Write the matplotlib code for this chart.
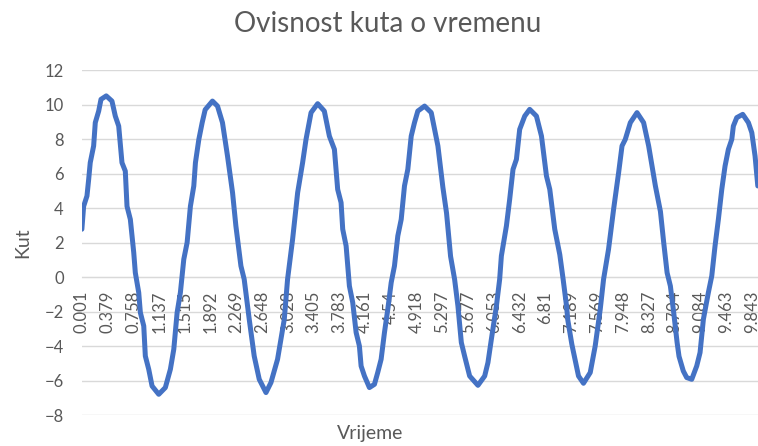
import matplotlib
matplotlib.use("Agg")
import matplotlib.pyplot as plt

# Data (time in s, angle)
vrijeme = [
    0.000, 0.026, 0.075, 0.100, 0.123, 0.173, 0.197, 0.247, 0.281, 0.358,
    0.442, 0.491, 0.541, 0.589, 0.638, 0.663, 0.712, 0.762, 0.785, 0.835,
    0.859, 0.909, 0.932, 0.982, 1.031, 1.129, 1.226, 1.300, 1.350, 1.399,
    1.447, 1.497, 1.546, 1.594, 1.644, 1.668, 1.718, 1.767, 1.811, 1.918,
    1.992, 2.065, 2.139, 2.213, 2.262, 2.336, 2.384, 2.458, 2.531, 2.605,
    2.704, 2.777, 2.874, 2.973, 3.021, 3.095, 3.169, 3.242, 3.292, 3.366,
    3.463, 3.561, 3.635, 3.709, 3.757, 3.807, 3.831, 3.881, 3.929, 3.978,
    4.028, 4.076, 4.101, 4.150, 4.223, 4.297, 4.345, 4.395, 4.444, 4.493,
    4.543, 4.591, 4.640, 4.690, 4.738, 4.787, 4.837, 4.885, 4.934, 5.033,
    5.131, 5.180, 5.229, 5.302, 5.356, 5.415, 5.474, 5.523, 5.573, 5.621,
    5.695, 5.817, 5.916, 5.964, 6.014, 6.088, 6.136, 6.161, 6.235, 6.283,
    6.332, 6.382, 6.430, 6.504, 6.577, 6.676, 6.750, 6.823, 6.872, 6.945,
    7.019, 7.068, 7.118, 7.137, 7.196, 7.294, 7.367, 7.466, 7.539, 7.613,
    7.662, 7.735, 7.809, 7.883, 7.933, 7.981, 8.055, 8.153, 8.250, 8.324,
    8.423, 8.497, 8.545, 8.595, 8.643, 8.692, 8.742, 8.770, 8.833, 8.883,
    8.957, 9.030, 9.079, 9.128, 9.201, 9.251, 9.299, 9.348, 9.398, 9.446,
    9.495, 9.545, 9.568, 9.618, 9.706, 9.789, 9.839, 9.887, 9.927,
]
kut = [
    2.77, 4.10, 4.70, 5.66, 6.63, 7.60, 8.95, 9.62, 10.30, 10.50,
    10.20, 9.33, 8.75, 6.63, 6.14, 4.10, 3.34, 1.41, 0.25, -0.90,
    -2.06, -2.84, -4.58, -5.35, -6.32, -6.80, -6.41, -5.35, -4.19, -2.06,
    -0.90, 1.03, 2.00, 4.10, 5.28, 6.63, 7.98, 8.95, 9.70, 10.20,
    9.91, 8.95, 7.01, 4.89, 2.96, 0.64, -0.13, -2.45, -4.58, -5.93,
    -6.70, -6.12, -4.77, -2.45, -0.13, 2.19, 4.89, 6.63, 7.98, 9.53,
    10.05, 9.62, 8.17, 7.40, 5.08, 4.31, 2.77, 1.80, -0.52, -1.48,
    -3.22, -4.00, -5.16, -5.74, -6.41, -6.22, -5.54, -4.77, -3.22, -1.87,
    -0.32, 0.64, 2.38, 3.34, 5.28, 6.24, 8.17, 8.95, 9.62, 9.91,
    9.53, 8.56, 7.60, 5.20, 3.70, 1.20, -0.13, -1.68, -3.80, -4.58,
    -5.74, -6.28, -5.74, -4.96, -3.61, -1.68, -0.13, 1.22, 2.96, 4.50,
    6.24, 6.82, 8.56, 9.33, 9.72, 9.33, 8.17, 5.86, 5.08, 2.77,
    1.30, -0.13, -1.68, -2.50, -3.90, -5.74, -6.16, -5.54, -4.00, -1.87,
    -0.13, 1.61, 3.92, 6.05, 7.60, 7.98, 8.95, 9.53, 8.95, 7.60,
    5.28, 3.80, 2.00, 0.25, -0.52, -2.06, -3.80, -4.60, -5.45, -5.83,
    -5.93, -5.16, -4.38, -2.45, -0.90, 0.06, 1.80, 3.34, 5.08, 6.43,
    7.40, 7.98, 8.75, 9.24, 9.43, 8.95, 8.37, 7.01, 5.28,
]
tick_labels = ['0.001', '0.379', '0.758', '1.137', '1.515', '1.892', '2.269',
               '2.648', '3.028', '3.405', '3.783', '4.161', '4.54', '4.918',
               '5.297', '5.677', '6.053', '6.432', '6.81', '7.189', '7.569',
               '7.948', '8.327', '8.704', '9.084', '9.463', '9.843']

plt.rcParams['font.family'] = ['Lato', 'DejaVu Sans']
txt = '#595959'
grid = '#d9d9d9'

fig = plt.figure(figsize=(7.58, 4.46), dpi=100)
ax = fig.add_axes([0.108, 0.0695, 0.892, 0.7735])

# spine position first - it resets the tick settings
for s in ['top', 'right', 'left']:
    ax.spines[s].set_visible(False)
ax.spines['bottom'].set_position(('data', 0))
ax.spines['bottom'].set_color(grid)

ax.plot(vrijeme, kut, color='#4472C4', lw=3.6, solid_joinstyle='round',
        solid_capstyle='round', zorder=3)

ax.set_ylim(-8, 12)
ax.set_yticks(range(-8, 13, 2))
ax.set_xlim(0.0, 9.93)
ax.set_xticks([float(t) for t in tick_labels])
ax.set_xticklabels(tick_labels, rotation=90, fontsize=12, color=txt)
ax.tick_params(axis='x', length=0, pad=10)
ax.tick_params(axis='y', length=0, pad=13, labelsize=12, labelcolor=txt)
ax.grid(axis='y', color=grid, lw=1)
ax.set_axisbelow(True)

fig.text(0.511, 0.946, 'Ovisnost kuta o vremenu', ha='center', va='center',
         fontsize=20, color=txt)
fig.text(0.488, 0.029, 'Vrijeme', ha='center', va='center', fontsize=14, color=txt)
fig.text(0.030, 0.456, 'Kut', ha='center', va='center', rotation=90,
         fontsize=14, color=txt)

fig.savefig('out.png', dpi=100)
